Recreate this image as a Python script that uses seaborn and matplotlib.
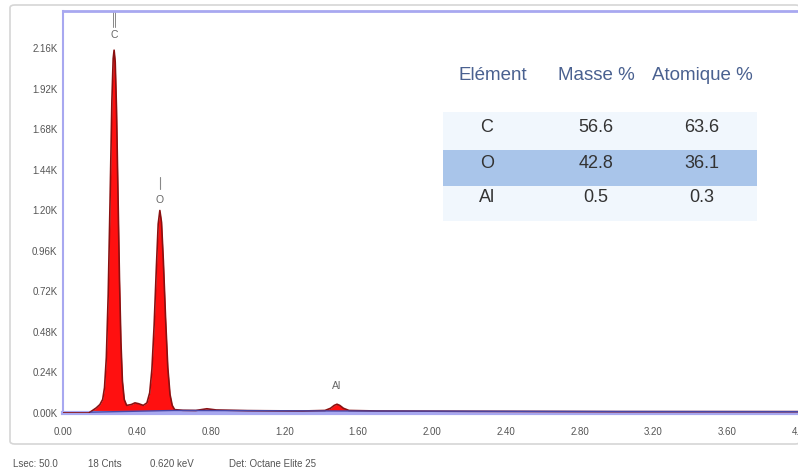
import matplotlib
matplotlib.use("Agg")
import matplotlib.pyplot as plt
from matplotlib.patches import Rectangle, FancyBboxPatch
from matplotlib.ticker import FixedLocator, FuncFormatter
import seaborn as sns

# EDS spectrum (energy in keV, counts)
energy = [0.000, 0.140, 0.160, 0.180, 0.200, 0.215, 0.225, 0.235, 0.245, 0.255,
          0.265, 0.272, 0.277, 0.283, 0.290, 0.298, 0.306, 0.314, 0.322, 0.332,
          0.345, 0.370, 0.390, 0.410, 0.435, 0.455, 0.470, 0.482, 0.494, 0.506,
          0.516, 0.525, 0.534, 0.544, 0.556, 0.568, 0.580, 0.592, 0.605, 0.650,
          0.720, 0.780, 0.830, 1.000, 1.300, 1.420, 1.450, 1.470, 1.485, 1.500,
          1.520, 1.550, 1.700, 2.200, 3.000, 4.000]
counts = [0, 0, 15, 30, 50, 80, 150, 330, 700, 1250,
          1850, 2100, 2150, 2080, 1800, 1300, 800, 420, 190, 80,
          45, 50, 60, 55, 45, 60, 120, 260, 520, 860,
          1120, 1200, 1130, 900, 560, 270, 110, 45, 20, 16,
          15, 25, 18, 14, 12, 15, 28, 45, 52, 45,
          28, 15, 12, 10, 8, 8]

# Continuum (background) trace
bkg_energy = [0.150, 0.600, 1.000, 1.500, 2.000, 3.000, 4.000]
bkg_counts = [5, 15, 14, 12, 11, 9, 8]

# Peak identification labels
peak_names = ["C", "O", "Al"]
peak_energy = [0.277, 0.525, 1.485]
peak_label_y = [2240, 1260, 160]

x_ticks = [0.00, 0.40, 0.80, 1.20, 1.60, 2.00, 2.40, 2.80, 3.20, 3.60, 4.00]
y_ticks = [0, 240, 480, 720, 960, 1200, 1440, 1680, 1920, 2160]

# Quantification table
elements = ["C", "O", "Al"]
masse_pct = ["56.6", "42.8", "0.5"]
atomique_pct = ["63.6", "36.1", "0.3"]
table_header = ["Elément", "Masse %", "Atomique %"]

footer = ["Lsec: 50.0", "18 Cnts", "0.620 keV", "Det: Octane Elite 25"]

sns.set_style("white")
plt.rcParams["font.family"] = ["Liberation Sans", "DejaVu Sans"]

W, H = 798, 475
fig = plt.figure(figsize=(W / 100, H / 100), dpi=100)

def fx(px):
    return px / W

def fy(py):
    return 1 - py / H

# outer panel frame
fig.add_artist(FancyBboxPatch((fx(10), fy(444)), fx(800) - fx(10), fy(5) - fy(444),
                              boxstyle="round,pad=0,rounding_size=0.006",
                              transform=fig.transFigure, facecolor="white",
                              edgecolor="#d6d6d6", linewidth=1.2, zorder=0))

# plot area runs slightly past the right edge of the canvas
ax = fig.add_axes([fx(63), fy(413), fx(801) - fx(63), fy(11) - fy(413)])
ax.set_facecolor("none")

sns.lineplot(x=energy, y=counts, ax=ax, color="#8a1010", linewidth=1.2, zorder=3)
ax.fill_between(energy, counts, color="#ff1010", linewidth=0, zorder=2)
sns.lineplot(x=bkg_energy, y=bkg_counts, ax=ax, color="#4848a8", linewidth=1.0, zorder=4)

ax.set_xlim(0, 4.0)
ax.set_ylim(0, 2382)

# peak markers
for name, e, ly in zip(peak_names, peak_energy, peak_label_y):
    ax.text(e, ly, name, ha="center", va="center", fontsize=7.5, color="#666666", zorder=5)
ax.plot([peak_energy[0] - 0.004, peak_energy[0] - 0.004], [2290, 2382], color="#888888", lw=0.7)
ax.plot([peak_energy[0] + 0.004, peak_energy[0] + 0.004], [2290, 2382], color="#888888", lw=0.7)
ax.plot([peak_energy[1], peak_energy[1]], [1330, 1400], color="#888888", lw=0.8)

for side in ["left", "top", "bottom"]:
    ax.spines[side].set_color("#a8a8f0")
ax.spines["left"].set_linewidth(1.5)
ax.spines["top"].set_linewidth(2.0)
ax.spines["bottom"].set_linewidth(3.0)
ax.spines["right"].set_visible(False)

ax.xaxis.set_major_locator(FixedLocator(x_ticks))
ax.yaxis.set_major_locator(FixedLocator(y_ticks))
ax.xaxis.set_major_formatter(FuncFormatter(lambda v, p: f"{v:.2f}"))
ax.yaxis.set_major_formatter(FuncFormatter(lambda v, p: f"{v / 1000:.2f}K"))
ax.tick_params(axis="both", which="major", length=2, width=0.8, color="#a8a8f0",
               labelsize=7, labelcolor="#555555", pad=2, direction="out")
ax.tick_params(axis="x", pad=8)
ax.set_xlabel("")
ax.set_ylabel("")
ax.grid(False)

# table background and highlighted row
fig.add_artist(Rectangle((fx(443), fy(221)), fx(757) - fx(443), fy(112) - fy(221),
                         transform=fig.transFigure, facecolor="#f1f7fd", edgecolor="none", zorder=6))
fig.add_artist(Rectangle((fx(443), fy(186)), fx(757) - fx(443), fy(150) - fy(186),
                         transform=fig.transFigure, facecolor="#a9c5ea", edgecolor="none", zorder=7))

col_x = [493, 596, 702]
for cx, h in zip(col_x, table_header):
    fig.text(fx(cx), fy(75), h, ha="center", va="center", fontsize=13.5,
             color="#4a6190", zorder=8)
row_y = [127, 163, 197]
for ry, el, m, a in zip(row_y, elements, masse_pct, atomique_pct):
    fig.text(fx(487), fy(ry), el, ha="center", va="center", fontsize=13, color="#333333", zorder=8)
    fig.text(fx(col_x[1]), fy(ry), m, ha="center", va="center", fontsize=13, color="#333333", zorder=8)
    fig.text(fx(col_x[2]), fy(ry), a, ha="center", va="center", fontsize=13, color="#333333", zorder=8)

# status bar
for px, t in zip([13, 88, 150, 229], footer):
    fig.text(fx(px), fy(464), t, ha="left", va="center", fontsize=7, color="#555555")

fig.savefig("out.png", dpi=100)
